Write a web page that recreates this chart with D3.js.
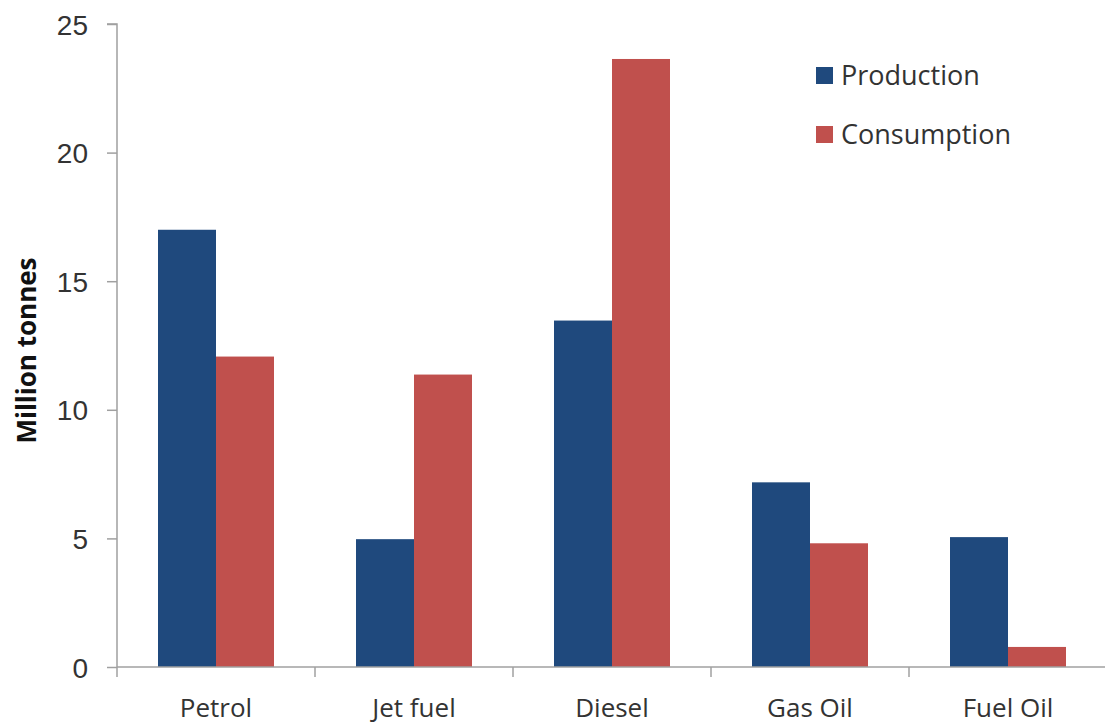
<!DOCTYPE html>
<html>
<head>
<meta charset="utf-8">
<script src="https://cdn.jsdelivr.net/npm/d3@7/dist/d3.min.js"></script>
<style>
  html, body { margin: 0; padding: 0; background: #fff; }
  svg { display: block; font-family: "Open Sans", "Noto Sans", sans-serif; }
</style>
</head>
<body>
<svg id="chart" width="1105" height="724"></svg>
<script>
// Refined products, million tonnes
const categories = ["Petrol", "Jet fuel", "Diesel", "Gas Oil", "Fuel Oil"];
const seriesNames = ["Production", "Consumption"];
const production = [17.0, 4.97, 13.47, 7.18, 5.05];
const consumption = [12.07, 11.37, 23.64, 4.81, 0.78];
const yTicks = [0, 5, 10, 15, 20, 25];
const colors = ["#1F497D", "#C0504D"];

const svg = d3.select("#chart");
const margin = { left: 117, right: -2, top: 24, bottom: 57 };
const W = 1105, H = 724;
const x0 = margin.left, x1 = W - margin.right;
const yBottom = H - margin.bottom, yTop = margin.top;

const x = d3.scaleBand().domain(categories).range([x0, x1]).paddingInner(0).paddingOuter(0);
const xs = d3.scaleBand().domain(seriesNames).range([0, x.bandwidth()]).paddingInner(0).paddingOuter(0.707);
const y = d3.scaleLinear().domain([0, 25]).range([yBottom, yTop]);

const rows = categories.map((c, i) => ({ cat: c, vals: [production[i], consumption[i]] }));

// bars
const g = svg.append("g");
rows.forEach(r => {
  r.vals.forEach((v, j) => {
    g.append("rect")
      .attr("x", x(r.cat) + xs(seriesNames[j]))
      .attr("y", y(v))
      .attr("width", xs.bandwidth())
      .attr("height", y(0) - y(v))
      .attr("fill", colors[j]);
  });
});

// y axis
const yAxis = d3.axisLeft(y).tickValues(yTicks).tickSize(10).tickPadding(19);
const ya = svg.append("g").attr("transform", `translate(${x0},0)`).call(yAxis);
ya.select(".domain").attr("stroke", "#a0a0a0").attr("stroke-width", 1.5).attr("d", `M-10,${yTop}H0V${yBottom}`);
ya.selectAll(".tick line").attr("stroke", "#a0a0a0").attr("stroke-width", 1.5);
ya.selectAll(".tick text").attr("fill", "#333").style("font-size", "28px").attr("dy", "0.36em");

// x axis with boundary ticks between categories
const xa = svg.append("g").attr("transform", `translate(0,${yBottom})`);
xa.append("line").attr("x1", x0).attr("x2", x1).attr("stroke", "#a0a0a0").attr("stroke-width", 1.5);
const bounds = categories.map(c => x(c)).concat([x1]);
xa.selectAll("line.b").data(bounds).enter().append("line")
  .attr("class", "b").attr("x1", d => d).attr("x2", d => d)
  .attr("y1", 0).attr("y2", 10).attr("stroke", "#a0a0a0").attr("stroke-width", 1.5);
xa.selectAll("text").data(categories).enter().append("text")
  .attr("x", d => x(d) + x.bandwidth() / 2)
  .attr("y", 50)
  .attr("text-anchor", "middle")
  .attr("fill", "#333")
  .style("font-size", "26px")
  .text(d => d);

// y title
svg.append("text")
  .attr("transform", `translate(36,${(yTop + yBottom) / 2 + 5}) rotate(-90)`)
  .attr("text-anchor", "middle")
  .attr("fill", "#111")
  .style("font-size", "26px")
  .style("font-weight", "bold")
  .text("Million tonnes");

// legend
const lg = svg.append("g").attr("transform", "translate(816,67)");
seriesNames.forEach((s, i) => {
  const row = lg.append("g").attr("transform", `translate(0,${i * 59})`);
  row.append("rect").attr("width", 17).attr("height", 17).attr("fill", colors[i]);
  row.append("text").attr("x", 25).attr("y", 18).attr("fill", "#333")
    .style("font-size", "27px").text(s);
});
</script>
</body>
</html>
